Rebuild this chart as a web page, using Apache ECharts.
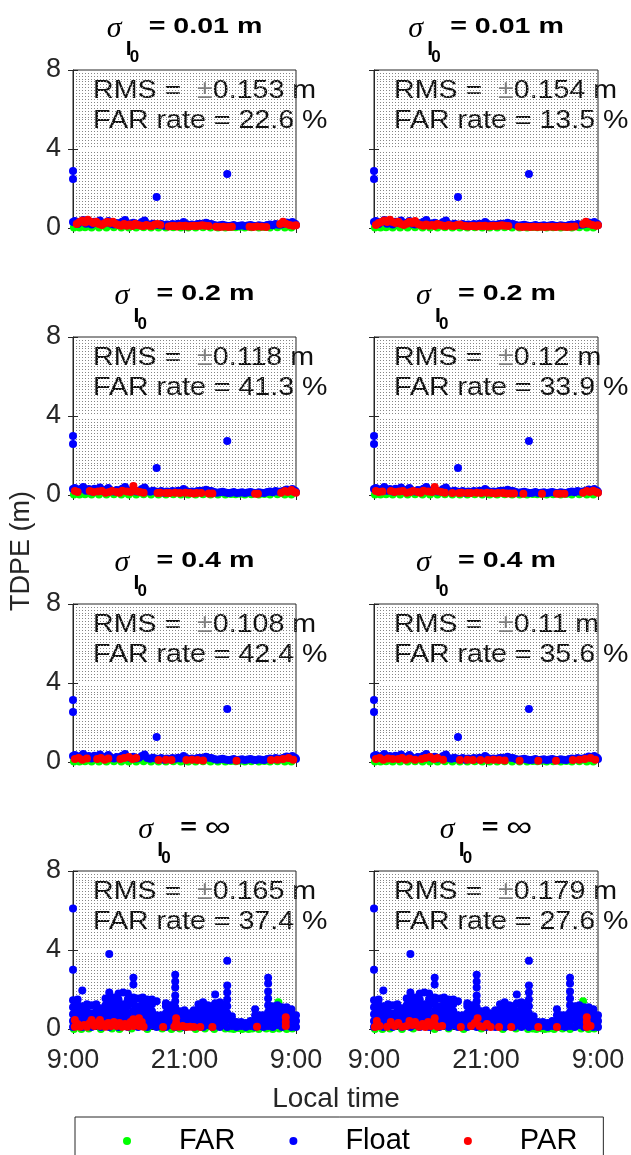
<!DOCTYPE html>
<html><head><meta charset="utf-8">
<script src="https://cdn.jsdelivr.net/npm/echarts@6/dist/echarts.min.js"></script>
<style>html,body{margin:0;padding:0;background:#fff}#c{width:631px;height:1155px}</style>
</head><body><div id="c"></div><script>
// ---------------- DATA ----------------
const seriesNames = ['FAR', 'Float', 'PAR'];
const sigmaLabels = ['0.01 m', '0.2 m', '0.4 m', '\u221e'];
const rmsValues = [['0.153', '0.154'], ['0.118', '0.12'], ['0.108', '0.11'], ['0.165', '0.179']];
const farRates = [['22.6', '13.5'], ['41.3', '33.9'], ['42.4', '35.6'], ['37.4', '27.6']];
const xTickLabels = ['9:00', '', '21:00', '', '9:00'];   // every 6 h from 0 to 24

// rows 1-3: low Float band (hour, TDPE m)
const floatBand = [[0,0.3],[0.2,0.35],[0.5,0.2],[0.8,0.3],[1.1,0.4],[1.4,0.22],[1.7,0.3],[2.0,0.18],[2.3,0.32],[2.6,0.25],[2.9,0.38],[3.2,0.2],[3.5,0.27],[3.8,0.35],[4.1,0.22],[4.4,0.18],[4.7,0.25],[5.0,0.2],[5.3,0.32],[5.6,0.4],[5.9,0.24],[6.2,0.2],[6.5,0.26],[6.8,0.18],[7.1,0.22],[7.4,0.3],[7.7,0.38],[8.0,0.2],[8.3,0.16],[8.6,0.22],[8.9,0.18],[9.2,0.15],[9.5,0.2],[9.8,0.12],[10.1,0.18],[10.4,0.14],[10.7,0.2],[11.0,0.16],[11.3,0.22],[11.6,0.18],[11.9,0.3],[12.2,0.2],[12.5,0.15],[12.8,0.18],[13.1,0.14],[13.4,0.2],[13.7,0.22],[14.0,0.18],[14.3,0.26],[14.6,0.22],[14.9,0.2],[15.2,0.15],[15.5,0.12],[15.8,0.14],[16.1,0.16],[16.4,0.13],[16.7,0.1],[17.0,0.12],[17.3,0.15],[17.6,0.1],[17.9,0.12],[18.2,0.14],[18.5,0.1],[18.8,0.13],[19.1,0.15],[19.4,0.12],[19.7,0.1],[20.0,0.14],[20.3,0.12],[20.6,0.1],[20.9,0.15],[21.2,0.18],[21.5,0.14],[21.8,0.2],[22.1,0.16],[22.4,0.18],[22.7,0.22],[23.0,0.28],[23.3,0.2],[23.6,0.3],[23.9,0.22],[24,0.15]];
const floatOut1 = [[0,2.48],[0,2.89],[9.0,1.57],[16.6,2.73]];
const floatOut2 = [[0,2.58],[0,2.99],[9.0,1.37],[16.6,2.73]];
const floatOut3 = [[0,2.53],[0,3.14],[9.0,1.27],[16.6,2.68]];
const farBand = [[0.1,0.03],[0.7,0.02],[1.3,0.04],[2.0,0.02],[2.8,0.03],[3.6,0.02],[4.4,0.04],[5.2,0.02],[6.0,0.03],[6.8,0.02],[7.6,0.04],[8.4,0.02],[9.2,0.03],[10.0,0.02],[10.8,0.04],[11.6,0.02],[12.4,0.03],[13.2,0.02],[14.0,0.04],[14.8,0.02],[15.6,0.03],[16.4,0.02],[17.0,0.05],[17.5,0.04],[18.0,0.06],[18.5,0.03],[19.2,0.04],[20.0,0.02],[20.6,0.05],[21.2,0.03],[22.0,0.04],[22.8,0.02],[23.5,0.03]];

const parRow1L = [[0.4,0.2],[0.7,0.3],[1.0,0.38],[1.3,0.28],[1.6,0.42],[1.9,0.32],[2.2,0.25],[2.5,0.32],[2.8,0.2],[3.1,0.15],[3.4,0.24],[3.7,0.32],[4.0,0.25],[4.3,0.32],[4.6,0.2],[4.9,0.15],[5.2,0.12],[5.5,0.2],[5.8,0.12],[6.1,0.18],[6.4,0.1],[6.7,0.22],[7.0,0.15],[7.3,0.12],[7.6,0.1],[7.9,0.15],[8.2,0.12],[8.5,0.1],[8.8,0.18],[9.1,0.2],[9.4,0.15],[10.3,0.08],[10.6,0.1],[10.9,0.1],[11.2,0.08],[11.5,0.12],[11.8,0.1],[12.1,0.12],[12.4,0.08],[12.7,0.1],[13.0,0.12],[13.3,0.1],[13.6,0.12],[13.9,0.14],[14.2,0.12],[14.6,0.1],[15.4,0.06],[15.8,0.05],[16.2,0.06],[16.7,0.05],[17.1,0.06],[19.0,0.06],[19.4,0.05],[19.8,0.07],[20.3,0.06],[20.8,0.05],[22.3,0.2],[22.6,0.32],[22.9,0.22],[23.3,0.15],[23.7,0.12],[24.0,0.14]];
const parRow1R = [[0.2,0.15],[0.5,0.25],[0.8,0.3],[1.1,0.38],[1.4,0.3],[1.7,0.42],[2.0,0.3],[2.3,0.25],[2.6,0.32],[2.9,0.2],[3.2,0.15],[3.5,0.22],[3.8,0.32],[4.1,0.25],[4.4,0.35],[4.7,0.2],[5.0,0.15],[5.3,0.12],[5.6,0.18],[5.9,0.12],[6.2,0.15],[6.5,0.1],[6.8,0.2],[7.1,0.15],[7.4,0.12],[7.7,0.1],[8.0,0.15],[8.3,0.12],[8.6,0.1],[8.9,0.15],[9.2,0.18],[9.5,0.12],[9.8,0.1],[10.1,0.08],[10.4,0.1],[10.7,0.1],[11.0,0.08],[11.3,0.12],[11.6,0.1],[11.9,0.12],[12.2,0.08],[12.5,0.1],[12.8,0.12],[13.1,0.1],[13.4,0.12],[13.7,0.14],[14.0,0.12],[14.4,0.1],[15.5,0.06],[15.9,0.05],[16.3,0.06],[16.7,0.05],[17.1,0.06],[17.5,0.05],[17.9,0.06],[18.3,0.05],[18.7,0.06],[19.1,0.06],[19.5,0.05],[19.9,0.07],[20.3,0.06],[20.7,0.05],[21.1,0.06],[21.5,0.07],[22.4,0.2],[22.7,0.32],[23.0,0.22],[23.4,0.15],[23.8,0.12],[24.0,0.14]];
const parRow2L = [[0.2,0.2],[0.5,0.15],[1.8,0.2],[2.2,0.15],[2.7,0.18],[3.1,0.2],[3.5,0.12],[3.9,0.15],[4.2,0.2],[4.7,0.15],[5.0,0.12],[5.3,0.22],[5.8,0.18],[6.2,0.15],[6.5,0.45],[6.8,0.2],[7.2,0.15],[7.6,0.12],[9.1,0.1],[9.4,0.12],[10.0,0.1],[10.4,0.1],[11.0,0.12],[11.5,0.1],[12.1,0.12],[12.6,0.1],[13.0,0.08],[13.3,0.1],[13.8,0.1],[14.6,0.08],[15.0,0.08],[19.6,0.06],[19.9,0.06],[22.4,0.12],[22.8,0.2],[23.1,0.15],[23.5,0.25],[23.8,0.15],[24.0,0.12]];
const parRow2R = [[0.2,0.2],[0.5,0.15],[0.9,0.18],[1.8,0.2],[2.2,0.15],[2.7,0.18],[3.1,0.2],[3.5,0.12],[3.9,0.15],[4.2,0.2],[4.7,0.15],[5.0,0.12],[5.3,0.22],[5.8,0.18],[6.2,0.15],[6.5,0.4],[6.8,0.2],[7.2,0.15],[7.6,0.12],[8.4,0.1],[9.1,0.1],[9.4,0.12],[10.0,0.1],[10.4,0.1],[11.0,0.12],[11.5,0.1],[12.1,0.12],[12.6,0.1],[13.0,0.08],[13.3,0.1],[13.8,0.1],[14.2,0.08],[14.6,0.08],[15.0,0.08],[16.0,0.06],[18.0,0.06],[19.6,0.06],[19.9,0.06],[20.4,0.06],[22.4,0.12],[22.8,0.2],[23.1,0.15],[23.5,0.22],[23.8,0.15],[24.0,0.12]];
const parRow3L = [[0.2,0.15],[0.6,0.2],[1.0,0.12],[1.5,0.18],[2.6,0.15],[3.0,0.2],[3.4,0.12],[3.8,0.18],[5.1,0.15],[5.5,0.2],[6.0,0.25],[6.4,0.15],[6.8,0.2],[9.2,0.1],[10.0,0.12],[10.6,0.1],[12.2,0.1],[12.8,0.12],[13.4,0.1],[14.0,0.08],[17.6,0.06],[21.3,0.1],[22.0,0.12],[22.6,0.15],[23.2,0.2],[23.7,0.12]];
const parRow3R = [[0.2,0.15],[0.6,0.2],[1.0,0.12],[1.5,0.18],[2.0,0.15],[2.6,0.15],[3.0,0.2],[3.4,0.12],[3.8,0.18],[4.4,0.12],[5.1,0.15],[5.5,0.2],[6.0,0.25],[6.4,0.15],[6.8,0.2],[7.4,0.12],[9.2,0.1],[10.0,0.12],[10.6,0.1],[11.4,0.1],[12.2,0.1],[12.8,0.12],[13.4,0.1],[14.0,0.08],[15.6,0.06],[17.6,0.06],[19.5,0.06],[21.3,0.1],[22.0,0.12],[22.6,0.15],[23.2,0.2],[23.7,0.12]];

// row 4 (sigma = infinity): Float columns as [hour, [values...]]
const floatRow4Cols = [
  [0.0,[0.1,0.4,0.75,1.1,1.45,3.0,6.1]],[0.5,[0.15,0.5,0.85,1.2,1.5]],[1.0,[0.1,0.45,0.8,1.15,1.95]],
  [1.5,[0.2,0.55,0.9,1.25]],[2.0,[0.1,0.45,0.8,1.2]],[2.5,[0.2,0.55,0.9,1.25]],[3.0,[0.1,0.45,0.8,1.05]],
  [3.5,[0.2,0.55,0.9,1.2,1.55]],[3.9,[0.1,0.45,0.8,1.15,1.5,1.85,3.8]],[4.4,[0.2,0.55,0.9,1.25,1.6]],
  [4.9,[0.1,0.45,0.8,1.15,1.5,1.8]],[5.4,[0.2,0.55,0.9,1.25,1.85]],[5.9,[0.1,0.45,0.8,1.15,1.5,1.8]],
  [6.5,[0.2,0.55,0.9,1.25,1.6,2.25,2.6]],[7.0,[0.1,0.45,0.8,1.15,1.55]],[7.5,[0.2,0.55,0.9,1.25,1.6]],
  [8.0,[0.1,0.45,0.8,1.15,1.5]],[8.5,[0.2,0.55,0.9,1.25,1.5]],[9.0,[0.1,0.4,0.7,1.4]],[9.5,[0.15,0.45,0.7]],
  [10.0,[0.1,0.45,0.8,1.15,1.3]],[10.5,[0.2,0.55,0.9,1.2]],[11.0,[0.1,0.45,0.8,1.1,1.4,1.7,2.1,2.4,2.75]],
  [11.5,[0.2,0.55,0.9]],[12.0,[0.1,0.4,0.7,0.95]],[12.5,[0.2,0.5,0.8]],[13.0,[0.1,0.4,0.7,0.95]],
  [13.5,[0.2,0.55,0.9,1.25]],[14.0,[0.1,0.45,0.8,1.1,1.35]],[14.5,[0.2,0.55,0.9,1.2]],[15.0,[0.1,0.45,0.8,1.15]],
  [15.3,[0.2,0.55,0.9,1.3,1.75]],[15.8,[0.1,0.45,0.8,1.15,1.35]],[16.2,[0.2,0.55,0.9,1.25]],
  [16.6,[0.1,0.45,0.8,1.15,1.5,1.85,2.2,3.45]],[17.1,[0.15,0.45,0.65]],[17.6,[0.1,0.35]],[18.1,[0.15,0.35]],
  [18.6,[0.1,0.3]],[19.1,[0.15,0.4]],[19.6,[0.1,0.4,0.7,1.0]],[20.1,[0.15,0.45,0.7]],[20.5,[0.1,0.4,0.7]],
  [21.0,[0.15,0.5,0.85,1.2,1.55,1.9,2.3,2.6]],[21.5,[0.1,0.45,0.8,1.15]],[22.0,[0.2,0.55,0.9,1.2]],
  [22.5,[0.1,0.45,0.8,1.1]],[23.0,[0.2,0.55,0.9,1.1]],[23.5,[0.1,0.45,0.8,1.0]],[24.0,[0.1,0.4,0.7]]
];
const parRow4L = [[0.2,0.12],[0.2,0.45],[0.5,0.25],[0.8,0.12],[1.2,0.2],[1.5,0.12],[1.8,0.3],[2.0,0.45],[2.3,0.15],[2.6,0.3],[2.9,0.15],[2.9,0.45],[3.2,0.25],[3.5,0.12],[3.8,0.3],[4.1,0.15],[4.4,0.35],[4.7,0.15],[5.0,0.3],[5.3,0.12],[5.6,0.25],[5.9,0.12],[6.2,0.35],[6.5,0.15],[6.5,0.5],[6.8,0.3],[7.1,0.15],[7.1,0.55],[7.4,0.35],[7.6,0.12],[9.7,0.1],[10.9,0.12],[11.1,0.3],[11.1,0.55],[11.4,0.12],[11.8,0.15],[12.2,0.1],[12.6,0.12],[13.0,0.1],[13.7,0.1],[15.0,0.1],[19.8,0.12],[22.9,0.15],[22.9,0.35],[22.9,0.6]];
const parRow4R = [[0.1,0.1],[0.3,0.4],[0.6,0.15],[1.4,0.12],[1.8,0.35],[2.2,0.15],[2.6,0.3],[3.0,0.12],[3.5,0.15],[3.8,0.4],[4.1,0.2],[4.4,0.35],[4.8,0.12],[5.2,0.25],[5.5,0.1],[5.8,0.35],[6.1,0.15],[6.5,0.55],[6.5,0.25],[6.8,0.12],[7.3,0.15],[9.3,0.1],[10.4,0.15],[10.8,0.3],[11.1,0.55],[11.3,0.15],[11.7,0.12],[12.1,0.25],[12.5,0.1],[13.4,0.1],[14.7,0.1],[17.6,0.1],[19.6,0.1],[22.8,0.1],[22.8,0.35],[22.8,0.6],[23.2,0.15]];
const farRow4L = [[0.1,0.0],[0.9,0.0],[1.7,0.02],[3.0,0.0],[4.2,0.02],[5.0,0.0],[6.3,0.02],[8.0,0.0],[9.6,0.02],[10.6,0.0],[11.5,0.03],[13.2,0.0],[14.2,0.02],[15.2,0.0],[16.4,0.02],[16.9,0.03],[17.3,0.0],[17.8,0.05],[18.2,0.0],[18.5,0.04],[18.9,0.0],[19.3,0.03],[20.0,0.0],[20.8,0.02],[21.5,0.0],[22.1,1.35],[22.2,0.03],[23.0,0.0],[23.6,0.02]];
const farRow4R = [[0.1,0.0],[0.9,0.0],[1.7,0.02],[3.0,0.0],[4.2,0.02],[6.5,0.0],[8.0,0.02],[9.6,0.0],[11.5,0.02],[13.8,0.0],[15.2,0.02],[16.5,0.0],[17.0,0.03],[17.4,0.0],[17.9,0.04],[18.3,0.0],[18.7,0.03],[19.3,0.0],[20.2,0.02],[21.0,0.0],[22.4,1.4],[22.2,0.03],[23.0,0.0],[23.6,0.02]];

const floatRow4 = [];
floatRow4Cols.forEach(([h, vals]) => vals.forEach(v => floatRow4.push([h, v])));

const panelData = [
  [{far: farBand, flt: floatBand.concat(floatOut1), par: parRow1L}, {far: farBand, flt: floatBand.concat(floatOut1), par: parRow1R}],
  [{far: farBand, flt: floatBand.concat(floatOut2), par: parRow2L}, {far: farBand, flt: floatBand.concat(floatOut2), par: parRow2R}],
  [{far: farBand, flt: floatBand.concat(floatOut3), par: parRow3L}, {far: farBand, flt: floatBand.concat(floatOut3), par: parRow3R}],
  [{far: farRow4L, flt: floatRow4, par: parRow4L}, {far: farRow4R, flt: floatRow4, par: parRow4R}]
];

// ---------------- LAYOUT ----------------
const FONT = '"Liberation Sans", Arial, sans-serif';
const AX = '#262626';
const colLeft = [73, 374];
const colWidth = [223, 224];
const rowTop = [70, 337, 604, 871];
const plotH = 158;
const colors = {FAR: '#00ff00', Float: '#0000ff', PAR: '#ff0000'};
const TITLE_SX = 1.3, NOTE_SX = 1.1;

const ctx = document.createElement('canvas').getContext('2d');
function measure(t, font) { ctx.font = font; return ctx.measureText(t).width; }

const grids = [], xAxes = [], yAxes = [], series = [], graphics = [];
for (let r = 0; r < 4; r++) {
  for (let c = 0; c < 2; c++) {
    const gi = grids.length;
    grids.push({left: colLeft[c], top: rowTop[r], width: colWidth[c], height: plotH,
      show: true, borderColor: AX, borderWidth: 1, backgroundColor: 'rgba(0,0,0,0)'});
    const showX = r === 3;
    xAxes.push({type: 'value', gridIndex: gi, min: 0, max: 24, interval: 6, position: 'bottom',
      axisLine: {show: true, onZero: false, lineStyle: {color: AX, width: 1}},
      axisTick: {show: true, inside: true, length: 5, lineStyle: {color: AX}},
      axisLabel: {show: showX, margin: 18, color: AX, fontSize: 27, fontFamily: FONT,
        showMinLabel: true, showMaxLabel: true, hideOverlap: false,
        formatter: v => xTickLabels[Math.round(v / 6)]},
      splitLine: {show: false}});
    xAxes.push({type: 'value', gridIndex: gi, min: 0, max: 24, interval: 6, position: 'top',
      axisLine: {show: false}, axisTick: {show: true, inside: true, length: 5, lineStyle: {color: AX}},
      axisLabel: {show: false}, splitLine: {show: false}});
    yAxes.push({type: 'value', gridIndex: gi, min: 0, max: 8, interval: 4, position: 'left',
      axisLine: {show: true, onZero: false, lineStyle: {color: AX, width: 1}},
      axisTick: {show: true, inside: true, length: 5, lineStyle: {color: AX}},
      axisLabel: {show: c === 0, margin: 12, color: AX, fontSize: 27, fontFamily: FONT,
        showMinLabel: true, showMaxLabel: true},
      splitLine: {show: false},
      minorTick: {show: false, splitNumber: 27},
      minorSplitLine: {show: true, lineStyle: {color: '#858585', width: 1, type: [1, 2]}}});
    yAxes.push({type: 'value', gridIndex: gi, min: 0, max: 8, interval: 4, position: 'right',
      axisLine: {show: false}, axisTick: {show: true, inside: true, length: 5, lineStyle: {color: AX}},
      axisLabel: {show: false}, splitLine: {show: false}});
    const d = panelData[r][c];
    [['FAR', d.far], ['Float', d.flt], ['PAR', d.par]].forEach(([name, data]) => {
      series.push({type: 'scatter', name, xAxisIndex: 2 * gi, yAxisIndex: 2 * gi, data,
        symbol: 'circle', symbolSize: 8, clip: false, silent: true,
        itemStyle: {color: colors[name], opacity: 1}});
    });

    // title  sigma_{I_0} = value
    const cx = colLeft[c] + colWidth[c] / 2;
    const top = rowTop[r];
    const isInf = sigmaLabels[r] === '\u221e';
    const mainFont = 'bold 22px ' + FONT;
    const infFont = '28px ' + FONT;
    const mainW = TITLE_SX * (isInf ? measure('= ', mainFont) + measure('\u221e', infFont)
                                    : measure('= ' + sigmaLabels[r], mainFont));
    const x0 = cx - (42 + mainW) / 2;
    graphics.push({type: 'text', x: x0, y: top - 41, silent: true,
      style: {text: '\u03c3', font: 'italic 30px "Liberation Serif", serif', fill: '#000', verticalAlign: 'middle'}});
    graphics.push({type: 'text', x: x0 + 19, y: top - 21, silent: true,
      style: {text: 'I', font: 'bold 21px ' + FONT, fill: '#000', verticalAlign: 'middle'}});
    graphics.push({type: 'text', x: x0 + 23, y: top - 13, silent: true,
      style: {text: '0', font: 'bold 17px ' + FONT, fill: '#000', verticalAlign: 'middle'}});
    graphics.push({type: 'text', x: x0 + 42, y: top - 43, scaleX: TITLE_SX, silent: true,
      style: isInf ? {text: '{b|= }{i|\u221e}', verticalAlign: 'middle',
        rich: {b: {font: mainFont, fill: '#000', verticalAlign: 'middle'},
               i: {font: infFont, fill: '#000', verticalAlign: 'middle'}}}
        : {text: '= ' + sigmaLabels[r], font: mainFont, fill: '#000', verticalAlign: 'middle'}});

    // annotations
    const tx = colLeft[c] + 20;
    graphics.push({type: 'text', x: tx, y: top + 21, scaleX: NOTE_SX, silent: true,
      style: {text: '{n|RMS =  }{p|\u00b1}{n|' + rmsValues[r][c] + ' m}', verticalAlign: 'middle',
        rich: {n: {font: '26px ' + FONT, fill: '#111'}, p: {font: '26px ' + FONT, fill: '#808080'}}}});
    graphics.push({type: 'text', x: tx, y: top + 51, scaleX: NOTE_SX, silent: true,
      style: {text: 'FAR rate = ' + farRates[r][c] + ' %', font: '26px ' + FONT, fill: '#111', verticalAlign: 'middle'}});
  }
}

graphics.push({type: 'text', x: 336, y: 1099, silent: true,
  style: {text: 'Local time', font: '28px ' + FONT, fill: AX, align: 'center', verticalAlign: 'middle'}});
graphics.push({type: 'text', x: 22, y: 551, rotation: Math.PI / 2, silent: true,
  style: {text: 'TDPE (m)', font: '27px ' + FONT, fill: AX, align: 'center', verticalAlign: 'middle'}});

const chart = echarts.init(document.getElementById('c'), null, {renderer: 'canvas'});
chart.setOption({
  animation: false,
  backgroundColor: '#fff',
  grid: grids, xAxis: xAxes, yAxis: yAxes, series,
  legend: {data: seriesNames, left: 75, top: 1117, orient: 'horizontal', selectedMode: false,
    icon: 'circle', itemWidth: 8, itemHeight: 8, itemGap: 54,
    padding: [8, 26, 40, 48], borderColor: AX, borderWidth: 1, borderRadius: 0,
    textStyle: {fontSize: 29, fontFamily: FONT, color: '#000', padding: [0, 0, 0, 43], lineHeight: 32}},
  graphic: graphics
});
</script></body></html>
